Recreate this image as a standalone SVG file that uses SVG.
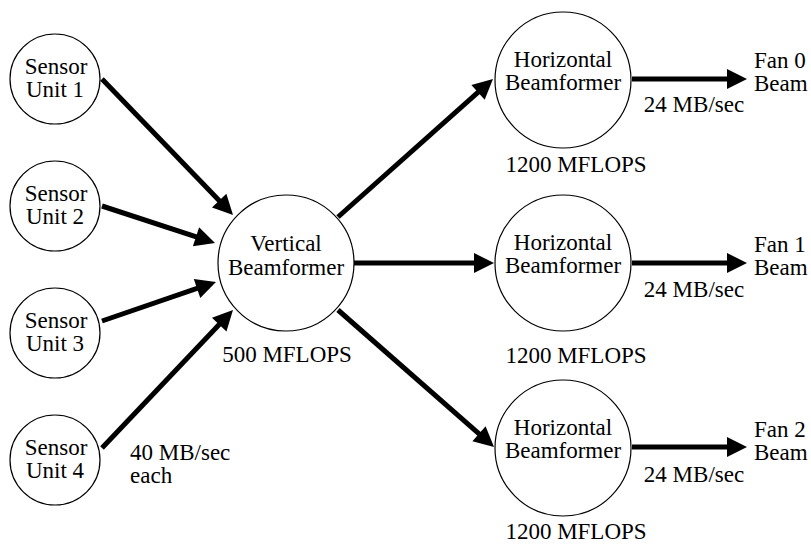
<svg xmlns="http://www.w3.org/2000/svg" width="811" height="548" viewBox="0 0 811 548">
  <style>
    .node { fill: #fff; stroke: #000; stroke-width: 1.2; }
    .lbl { font-family: "Liberation Serif", "Times New Roman", serif; font-size: 23px; fill: #000; }
    .mid { text-anchor: middle; }
    .edge { stroke: #000; stroke-width: 5; fill: none; marker-end: url(#head); }
  </style>
  <defs>
    <!-- solid arrowhead centred 10px back from the tip, so the shaft ends inside it -->
    <marker id="head" markerUnits="userSpaceOnUse" markerWidth="20" markerHeight="20" refX="10" refY="10" orient="auto" overflow="visible">
      <path d="M0,0 L20,10 L0,20 z" fill="#000"/>
    </marker>
  </defs>
  <rect width="811" height="548" fill="#fff"/>

  <!-- data-flow connectors -->
  <g id="connectors">
    <line class="edge" x1="102" y1="79" x2="226.1" y2="207.8"/>
    <line class="edge" x1="102" y1="206" x2="205.5" y2="239.9"/>
    <line class="edge" x1="102" y1="321" x2="206.5" y2="285.2"/>
    <line class="edge" x1="102" y1="448" x2="226.1" y2="317.3"/>
    <line class="edge" x1="338" y1="217" x2="485.5" y2="85.7"/>
    <line class="edge" x1="354" y1="263" x2="484" y2="263"/>
    <line class="edge" x1="338" y1="310" x2="486.5" y2="440.4"/>
    <line class="edge" x1="632" y1="79" x2="737" y2="79"/>
    <line class="edge" x1="632" y1="263" x2="737" y2="263"/>
    <line class="edge" x1="632" y1="447" x2="737" y2="447"/>
  </g>

  <!-- sensor units -->
  <g id="sensor1">
    <circle class="node" cx="55" cy="79" r="45"/>
    <text class="lbl mid" x="56" y="74">Sensor</text>
    <text class="lbl mid" x="55" y="97">Unit 1</text>
  </g>
  <g id="sensor2">
    <circle class="node" cx="55" cy="206" r="45"/>
    <text class="lbl mid" x="56" y="201">Sensor</text>
    <text class="lbl mid" x="55" y="224">Unit 2</text>
  </g>
  <g id="sensor3">
    <circle class="node" cx="55" cy="333" r="45"/>
    <text class="lbl mid" x="56" y="328">Sensor</text>
    <text class="lbl mid" x="55" y="351">Unit 3</text>
  </g>
  <g id="sensor4">
    <circle class="node" cx="55" cy="460" r="45"/>
    <text class="lbl mid" x="56" y="455">Sensor</text>
    <text class="lbl mid" x="55" y="478">Unit 4</text>
  </g>

  <!-- vertical beamformer -->
  <g id="vertical">
    <circle class="node" cx="286" cy="263" r="68"/>
    <text class="lbl mid" x="286" y="251">Vertical</text>
    <text class="lbl mid" x="286" y="275">Beamformer</text>
    <text class="lbl mid" x="287" y="362">500 MFLOPS</text>
  </g>
  <text class="lbl" x="130" y="460">40 MB/sec</text>
  <text class="lbl" x="130" y="483">each</text>

  <!-- horizontal beamformers -->
  <g id="horizontal0">
    <circle class="node" cx="563" cy="80" r="68"/>
    <text class="lbl mid" x="563" y="67">Horizontal</text>
    <text class="lbl mid" x="563" y="90">Beamformer</text>
    <text class="lbl mid" x="576" y="172">1200 MFLOPS</text>
  </g>
  <g id="horizontal1">
    <circle class="node" cx="563" cy="263" r="68"/>
    <text class="lbl mid" x="563" y="250">Horizontal</text>
    <text class="lbl mid" x="563" y="273">Beamformer</text>
    <text class="lbl mid" x="576" y="363">1200 MFLOPS</text>
  </g>
  <g id="horizontal2">
    <circle class="node" cx="563" cy="448" r="68"/>
    <text class="lbl mid" x="563" y="435">Horizontal</text>
    <text class="lbl mid" x="563" y="458">Beamformer</text>
    <text class="lbl mid" x="576" y="539">1200 MFLOPS</text>
  </g>

  <!-- output rates and beams -->
  <text class="lbl mid" x="694" y="112">24 MB/sec</text>
  <text class="lbl mid" x="694" y="297">24 MB/sec</text>
  <text class="lbl mid" x="694" y="482">24 MB/sec</text>
  <g id="fan0">
    <text class="lbl" x="754" y="68">Fan 0</text>
    <text class="lbl" x="754" y="91">Beam</text>
  </g>
  <g id="fan1">
    <text class="lbl" x="754" y="252">Fan 1</text>
    <text class="lbl" x="754" y="275">Beam</text>
  </g>
  <g id="fan2">
    <text class="lbl" x="754" y="437">Fan 2</text>
    <text class="lbl" x="754" y="460">Beam</text>
  </g>
</svg>
